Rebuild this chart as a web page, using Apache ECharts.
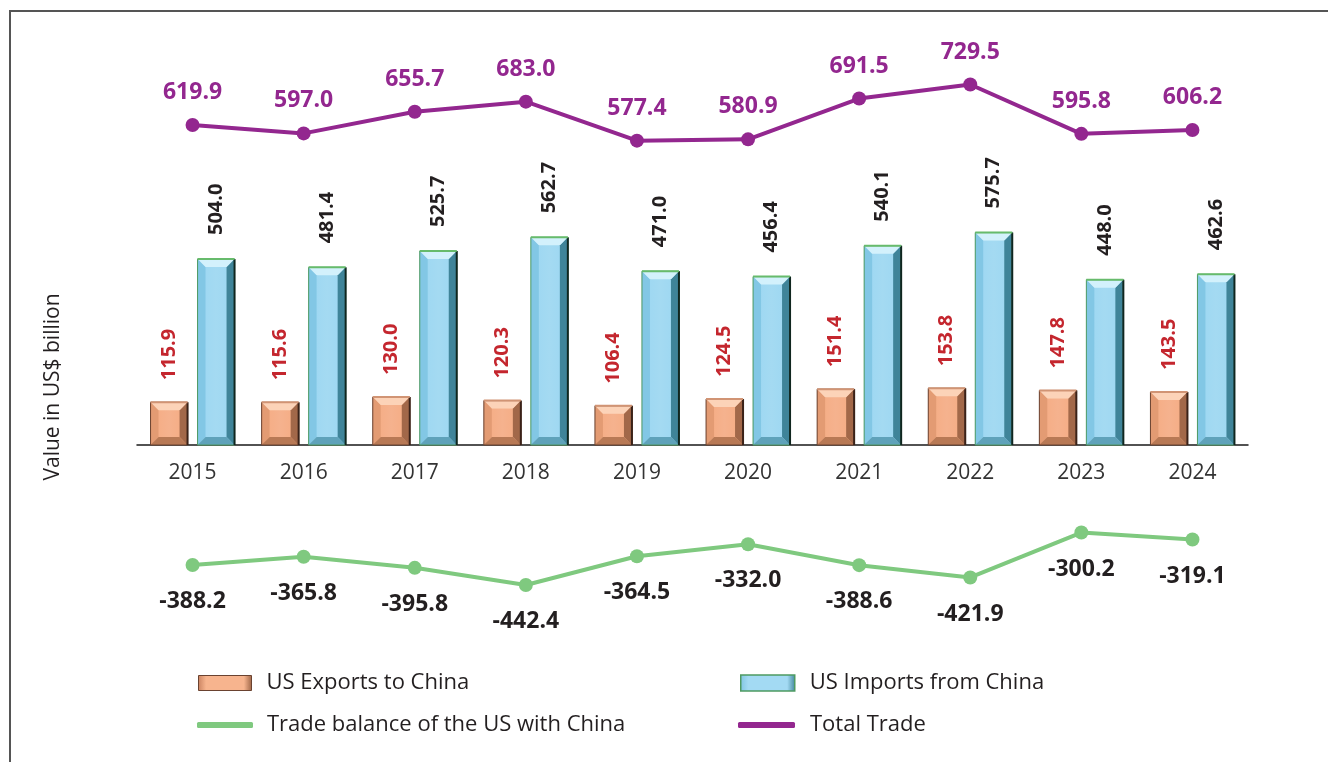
<!DOCTYPE html>
<html>
<head>
<meta charset="utf-8">
<script src="https://cdn.jsdelivr.net/npm/echarts@6/dist/echarts.min.js"></script>
<style>
  html, body { margin: 0; padding: 0; background: #ffffff; }
  #chart { width: 1328px; height: 762px; }
</style>
</head>
<body>
<div id="chart"></div>
<script>
// US–China goods trade, US$ billion
const years = ['2015', '2016', '2017', '2018', '2019', '2020', '2021', '2022', '2023', '2024'];
const exportsToChina = [115.9, 115.6, 130.0, 120.3, 106.4, 124.5, 151.4, 153.8, 147.8, 143.5];
const importsFromChina = [504.0, 481.4, 525.7, 562.7, 471.0, 456.4, 540.1, 575.7, 448.0, 462.6];
const tradeBalance = [-388.2, -365.8, -395.8, -442.4, -364.5, -332.0, -388.6, -421.9, -300.2, -319.1];
const totalTrade = [619.9, 597.0, 655.7, 683.0, 577.4, 580.9, 691.5, 729.5, 595.8, 606.2];

const FONT = '"Open Sans", "Noto Sans", sans-serif';
const PURPLE = '#93278f';
const GREEN = '#7fc97f';
const RED = '#c4262e';
const INK = '#231f20';

const BAR_W = 37;
const BAR_OFF = 23.5;   // half of bar width + half of gap
const BEVEL = 8;

// face colours for the raised (bevelled) bars
const EXPORT_FACES = {
  center: '#f5ae87', top: '#fcd3b8', left: '#e39b73', right: '#a26849', bottom: '#b87955',
  outline: '#6a4230', rightEdge: '#3a2218', topEdge: '#d19474'
};
const IMPORT_FACES = {
  center: '#9fd8f2', top: '#d3f1fc', left: '#82c7e5', right: '#3f8499', bottom: '#5fa2ba',
  outline: '#4e9a62', rightEdge: '#10261f', topEdge: '#67bb6c'
};

function bevelBar(x0, x1, yt, yb, c) {
  const b = Math.min(BEVEL, (yb - yt) / 2, (x1 - x0) / 3);
  const faces = [
    { pts: [[x0, yt], [x0 + b, yt + b], [x0 + b, yb - b], [x0, yb]], fill: c.left },
    { pts: [[x1, yt], [x1, yb], [x1 - b, yb - b], [x1 - b, yt + b]], fill: c.right },
    { pts: [[x0, yb], [x1, yb], [x1 - b, yb - b], [x0 + b, yb - b]], fill: c.bottom },
    { pts: [[x0, yt], [x1, yt], [x1 - b, yt + b], [x0 + b, yt + b]], fill: c.top }
  ];
  const els = [{
    type: 'rect', shape: { x: x0 + b, y: yt + b, width: x1 - x0 - 2 * b, height: Math.max(0, yb - yt - 2 * b) },
    style: {
      fill: new echarts.graphic.LinearGradient(0, 0, 1, 0, [
        { offset: 0, color: c.center }, { offset: 0.5, color: echarts.color.lift(c.center, 0.06) }, { offset: 1, color: c.center }
      ])
    }
  }];
  faces.forEach(f => els.push({ type: 'polygon', shape: { points: f.pts }, style: { fill: f.fill } }));
  els.push({ type: 'rect', shape: { x: x0, y: yt, width: x1 - x0, height: yb - yt },
    style: { fill: 'none', stroke: c.outline, lineWidth: 1 } });
  els.push({ type: 'line', shape: { x1: x1, y1: yt, x2: x1, y2: yb }, style: { stroke: c.rightEdge, lineWidth: 2 } });
  els.push({ type: 'line', shape: { x1: x0, y1: yt, x2: x1, y2: yt }, style: { stroke: c.topEdge, lineWidth: 2 } });
  return els;
}

const bevelData = years.map((y, i) => [i, exportsToChina[i], importsFromChina[i]]);

const chart = echarts.init(document.getElementById('chart'), null, { renderer: 'canvas' });

const gridLeft = 137, gridRight = 80;

const legendText = { fontSize: 22, color: INK, fontFamily: FONT };

const option = {
  backgroundColor: '#ffffff',
  animation: false,
  textStyle: { fontFamily: FONT },
  grid: [
    { left: gridLeft, right: gridRight, top: 223.6, height: 221.4 },   // bars
    { left: gridLeft, right: gridRight, top: 58.5, height: 110.7 },    // total trade
    { left: gridLeft, right: gridRight, top: 514, height: 92.3 }       // trade balance
  ],
  xAxis: [
    {
      type: 'category', gridIndex: 0, data: years,
      axisLine: { show: true, lineStyle: { color: '#1a1a1a', width: 1.5 } },
      axisTick: { show: false },
      axisLabel: { color: '#333333', fontSize: 21, margin: 18, fontFamily: FONT }
    },
    { type: 'category', gridIndex: 1, data: years, show: false },
    { type: 'category', gridIndex: 2, data: years, show: false }
  ],
  yAxis: [
    { type: 'value', gridIndex: 0, min: 0, max: 600, show: false },
    { type: 'value', gridIndex: 1, min: 500, max: 800, show: false },
    { type: 'value', gridIndex: 2, min: -500, max: -250, show: false }
  ],
  legend: [
    {
      left: 193, top: 667, itemWidth: 53, itemHeight: 15, icon: 'rect',
      data: [{ name: 'US Exports to China', itemStyle: { borderColor: '#6a4230', borderWidth: 1 } }],
      textStyle: Object.assign({ padding: [0, 0, 0, 10] }, legendText)
    },
    {
      left: 735, top: 667, itemWidth: 54, itemHeight: 16, icon: 'rect',
      data: [{ name: 'US Imports from China', itemStyle: { borderColor: '#4e9a62', borderWidth: 1.5 } }],
      textStyle: Object.assign({ padding: [0, 0, 0, 10] }, legendText)
    },
    {
      left: 192, top: 709, itemWidth: 56, itemHeight: 6, icon: 'roundRect',
      data: ['Trade balance of the US with China'],
      textStyle: Object.assign({ padding: [0, 0, 0, 9] }, legendText)
    },
    {
      left: 733, top: 709, itemWidth: 57, itemHeight: 6, icon: 'roundRect',
      data: ['Total Trade'],
      textStyle: Object.assign({ padding: [0, 0, 0, 10] }, legendText)
    }
  ],
  graphic: [
    {
      type: 'polyline', silent: true,
      shape: { points: [[10, 800], [10, 11], [1340, 11]] },
      style: { stroke: '#555555', lineWidth: 2, fill: null }
    },
    {
      type: 'text', silent: true, rotation: Math.PI / 2,
      x: 53, y: 387,
      style: { text: 'Value in US$ billion', font: '21px ' + FONT, fill: INK, align: 'center', verticalAlign: 'middle' }
    }
  ],
  series: [
    {
      name: 'US Exports to China', type: 'bar', xAxisIndex: 0, yAxisIndex: 0,
      data: exportsToChina, barWidth: BAR_W, barGap: '27%',
      itemStyle: {
        color: new echarts.graphic.LinearGradient(0, 0, 1, 0, [
          { offset: 0, color: '#c98260' },
          { offset: 0.15, color: '#f7b48e' },
          { offset: 0.85, color: '#f7b48e' },
          { offset: 1, color: '#9c6446' }
        ])
      },
      label: {
        show: true, position: 'top', rotate: 90, align: 'left', verticalAlign: 'middle',
        distance: 22, color: RED, fontSize: 20, fontWeight: 'bold', fontFamily: FONT,
        formatter: p => p.value.toFixed(1)
      }
    },
    {
      name: 'US Imports from China', type: 'bar', xAxisIndex: 0, yAxisIndex: 0,
      data: importsFromChina, barWidth: BAR_W,
      itemStyle: {
        color: new echarts.graphic.LinearGradient(0, 0, 1, 0, [
          { offset: 0, color: '#7fc4e2' },
          { offset: 0.15, color: '#a3daf3' },
          { offset: 0.85, color: '#a3daf3' },
          { offset: 1, color: '#3f8499' }
        ])
      },
      label: {
        show: true, position: 'top', rotate: 90, align: 'left', verticalAlign: 'middle',
        distance: 24, color: INK, fontSize: 20, fontWeight: 'bold', fontFamily: FONT,
        formatter: p => p.value.toFixed(1)
      }
    },
    {
      type: 'custom', xAxisIndex: 0, yAxisIndex: 0, silent: true, z: 3,
      data: bevelData,
      renderItem: (params, api) => {
        const i = api.value(0);
        const base = api.coord([i, 0]);
        const eTop = api.coord([i, api.value(1)]);
        const iTop = api.coord([i, api.value(2)]);
        const cx = base[0];
        const children = []
          .concat(bevelBar(cx - BAR_OFF - BAR_W / 2, cx - BAR_OFF + BAR_W / 2, eTop[1], base[1], EXPORT_FACES))
          .concat(bevelBar(cx + BAR_OFF - BAR_W / 2, cx + BAR_OFF + BAR_W / 2, iTop[1], base[1], IMPORT_FACES));
        return { type: 'group', children: children };
      }
    },
    {
      name: 'Total Trade', type: 'line', xAxisIndex: 1, yAxisIndex: 1,
      data: totalTrade, color: PURPLE,
      lineStyle: { width: 4, color: PURPLE },
      symbol: 'circle', symbolSize: 14, itemStyle: { color: PURPLE },
      label: {
        show: true, position: 'top', distance: 14, color: PURPLE,
        fontSize: 23, fontWeight: 'bold', fontFamily: FONT,
        formatter: p => p.value.toFixed(1)
      }
    },
    {
      name: 'Trade balance of the US with China', type: 'line', xAxisIndex: 2, yAxisIndex: 2,
      data: tradeBalance, color: GREEN,
      lineStyle: { width: 4, color: GREEN },
      symbol: 'circle', symbolSize: 14, itemStyle: { color: GREEN },
      label: {
        show: true, position: 'bottom', distance: 18, color: INK,
        fontSize: 23, fontWeight: 'bold', fontFamily: FONT,
        formatter: p => p.value.toFixed(1)
      }
    }
  ]
};

chart.setOption(option);
</script>
</body>
</html>
